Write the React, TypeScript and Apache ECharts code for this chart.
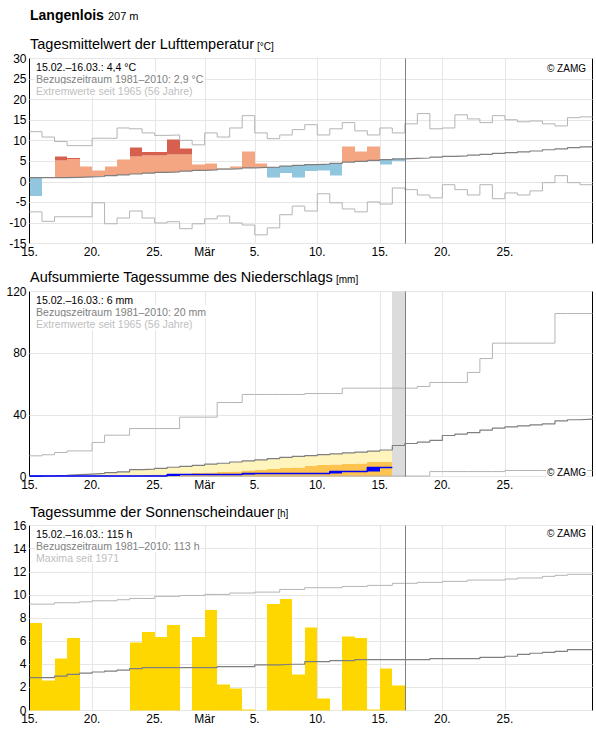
import React, { useEffect, useRef } from 'react';
import * as echarts from 'echarts';

// ---------- axis / category data ----------
const DAY_COUNT = 45; // 15.02. – 31.03.
const xLabelDays = [0, 5, 10, 14, 18, 23, 28, 33, 38];
const xLabelTexts = ['15.', '20.', '25.', 'Mär', '5.', '10.', '15.', '20.', '25.'];
const todayIndex = 30;
const precipMissingDay = 29;

// ---------- temperature (°C) ----------
const tempActual = [-3.5, 1.0, 6.2, 5.8, 3.7, 2.8, 3.7, 5.4, 8.4, 7.3, 7.3, 10.3, 8.1, 4.2, 4.5, 3.2, 3.7, 7.4, 4.5, 1.05, 2.1, 1.1, 2.6, 2.8, 1.6, 8.6, 7.4, 8.6, 4.2, 5.1];
const tempWarmLimit = [5.1, 5.1, 5.2, 5.6, 5.7, 5.8, 5.9, 6.0, 6.2, 6.4, 6.4, 6.7, 6.7, 7.0, 7.1, 7.3, 7.4, 7.6, 7.7, 7.8, 8.0, 8.2, 8.4, 8.5, 8.7, 9.0, 9.2, 9.4, 9.6, 9.8];
const tempNormal = [1.0, 1.0, 1.0, 1.1, 1.2, 1.3, 1.5, 1.7, 1.9, 2.1, 2.3, 2.4, 2.6, 2.8, 2.9, 3.1, 3.2, 3.4, 3.5, 3.6, 3.8, 4.0, 4.2, 4.3, 4.5, 4.8, 5.0, 5.2, 5.4, 5.6, 5.7, 5.8, 6.0, 6.2, 6.3, 6.5, 6.7, 6.9, 7.1, 7.3, 7.5, 7.8, 8.0, 8.3, 8.5];
const tempMax = [12.2, 10.9, 9.8, 8.8, 8.8, 10.6, 10.6, 13.1, 12.9, 11.9, 11.3, 11.4, 10.1, 9.0, 11.9, 10.9, 13.1, 16.1, 11.9, 10.5, 11.4, 12.7, 13.9, 11.4, 12.9, 14.4, 12.4, 11.4, 13.1, 11.9, 14.1, 16.6, 12.9, 13.1, 16.3, 15.3, 14.4, 16.1, 15.1, 14.6, 14.8, 14.1, 13.6, 15.6, 15.8];
const tempMin = [-7.3, -9.6, -8.5, -8.5, -8.5, -5.1, -10.2, -8.8, -7.1, -8.8, -10.0, -9.7, -11.4, -10.2, -9.0, -8.3, -10.0, -10.5, -12.9, -11.2, -8.0, -5.9, -7.1, -2.9, -5.1, -6.6, -7.3, -4.9, -5.4, -1.5, -1.9, -3.2, -3.9, -0.7, -1.9, -3.2, -0.7, -4.1, -2.7, -3.2, -2.2, -0.2, 1.5, -0.2, -0.7];

// ---------- precipitation, cumulative (mm) ----------
const precipActual = [0.4, 0.4, 0.4, 0.4, 0.4, 0.4, 0.4, 0.4, 0.4, 0.4, 0.4, 1.3, 1.3, 1.3, 1.3, 1.3, 1.3, 2.0, 2.0, 2.0, 2.0, 2.0, 2.0, 2.0, 3.2, 3.2, 3.2, 5.8, 5.8];
const precipLowBand = [0, 0, 0, 0, 0.1, 0.2, 0.3, 0.5, 0.8, 1.0, 1.3, 1.6, 1.9, 2.2, 2.6, 3.0, 3.4, 3.8, 4.2, 4.8, 5.4, 6.0, 6.9, 7.3, 7.8, 8.0, 8.4, 9.3, 9.3];
const precipNormal = [0.3, 0.5, 0.8, 1.2, 1.6, 2.0, 2.5, 3.0, 4.5, 4.8, 5.3, 6.0, 6.6, 7.2, 8.0, 8.6, 9.4, 10.1, 10.8, 11.6, 12.4, 13.0, 13.6, 14.2, 14.7, 15.3, 15.8, 16.4, 17.2, 20.1, 21.4, 22.3, 23.4, 26.6, 27.5, 28.5, 30.1, 31.4, 32.2, 32.9, 33.5, 34.2, 36.1, 36.8, 37.2];
const precipMax = [13.4, 14.1, 15.6, 16.6, 16.6, 22.1, 26.8, 26.8, 31.1, 31.1, 31.1, 31.1, 38.5, 38.5, 38.5, 48.0, 48.0, 53.2, 53.2, 53.2, 53.2, 53.2, 53.8, 53.8, 53.8, 57.3, 57.3, 57.3, 57.3, 57.3, 57.3, 58.4, 61.0, 61.0, 61.0, 67.5, 76.5, 86.5, 86.5, 86.5, 86.5, 86.5, 105.7, 105.7, 105.7];
const precipMin = [0.3, 0.3, 0.3, 0.3, 0.3, 0.3, 0.3, 0.3, 0.3, 0.3, 0.3, 0.3, 0.3, 0.3, 0.3, 0.3, 0.3, 0.3, 0.3, 0.3, 0.3, 0.3, 0.3, 0.3, 0.3, 0.3, 0.3, 0.3, 0.3, 0.3, 0.3, 0.3, 3.2, 3.2, 3.2, 3.2, 3.2, 3.2, 3.9, 3.9, 3.9, 3.9, 3.9, 3.9, 3.9];

// ---------- sunshine (h) ----------
const sunActual = [7.55, 2.6, 4.5, 6.25, 0, 0, 0, 0, 5.9, 6.77, 6.34, 7.38, 0, 6.34, 8.68, 2.26, 1.91, 0.09, 0, 9.2, 9.64, 3.13, 7.2, 1.04, 0, 6.42, 6.25, 0.09, 3.65, 2.17];
const sunNormal = [2.84, 2.84, 2.98, 3.13, 3.24, 3.33, 3.41, 3.5, 3.62, 3.7, 3.7, 3.7, 3.7, 3.7, 3.7, 3.79, 3.79, 3.79, 3.94, 3.94, 4.0, 4.0, 4.22, 4.22, 4.31, 4.31, 4.4, 4.4, 4.4, 4.4, 4.4, 4.4, 4.48, 4.48, 4.48, 4.48, 4.6, 4.6, 4.69, 4.86, 4.95, 5.03, 5.12, 5.27, 5.27];
const sunMax = [9.2, 9.2, 9.32, 9.32, 9.4, 9.49, 9.49, 9.58, 9.69, 9.69, 9.87, 9.87, 9.95, 9.95, 10.04, 10.04, 10.16, 10.16, 10.24, 10.24, 10.47, 10.47, 10.62, 10.62, 10.62, 10.73, 10.73, 10.82, 10.82, 11.0, 11.0, 11.08, 11.08, 11.17, 11.17, 11.28, 11.28, 11.28, 11.37, 11.46, 11.46, 11.6, 11.69, 11.78, 11.78];

// ---------- texts ----------
const stationName = 'Langenlois';
const stationHeight = '207 m';
const panelTitles = ['Tagesmittelwert der Lufttemperatur', 'Aufsummierte Tagessumme des Niederschlags', 'Tagessumme der Sonnenscheindauer'];
const panelUnits = ['[°C]', '[mm]', '[h]'];
const panelLegends = [
  ['15.02.–16.03.: 4,4 °C', 'Bezugszeitraum 1981–2010: 2,9 °C', 'Extremwerte seit 1965 (56 Jahre)'],
  ['15.02.–16.03.: 6 mm', 'Bezugszeitraum 1981–2010: 20 mm', 'Extremwerte seit 1965 (56 Jahre)'],
  ['15.02.–16.03.: 115 h', 'Bezugszeitraum 1981–2010: 113 h', 'Maxima seit 1971'],
];
const copyright = '© ZAMG';
const yRanges = [
  { min: -15, max: 30, interval: 5 },
  { min: 0, max: 120, interval: 40 },
  { min: 0, max: 16, interval: 2 },
];

// ---------- styling ----------
const FONT = '"Liberation Sans", Arial, Helvetica, sans-serif';
const GRID_LEFT = 29.5;
const GRID_WIDTH = 563;
const GRID_HEIGHT = 185;
const gridTops = [58.5, 291.5, 525.5];
const C_NORMAL = '#7f7f7f';
const C_EXTREME = '#b4b4b4';
const C_GRID = '#e6e6e6';

function measure(text: string, font: string): number {
  const ctx = document.createElement('canvas').getContext('2d');
  if (!ctx) return text.length * 7;
  ctx.font = font;
  return ctx.measureText(text).width;
}

function stepLine(values: number[], p: number, color: string, width: number, z: number) {
  const data = values.map((v, i) => [i, v]);
  data.push([values.length, values[values.length - 1]]);
  return {
    type: 'line', xAxisIndex: p, yAxisIndex: p, step: 'end', data, symbol: 'none', showSymbol: false,
    silent: true, z, lineStyle: { color, width }, emphasis: { disabled: true },
  };
}

function rectSeries(data: number[][], p: number, colors: string[], z: number) {
  return {
    type: 'custom', xAxisIndex: p, yAxisIndex: p, silent: true, z, clip: false, data,
    renderItem: (_params: any, api: any) => {
      const a = api.coord([api.value(0), api.value(3)]);
      const b = api.coord([api.value(1), api.value(2)]);
      const x0 = Math.round(a[0]);
      const x1 = Math.round(b[0]);
      const y0 = Math.round(a[1] * 2) / 2;
      const y1 = Math.round(b[1] * 2) / 2;
      return { type: 'rect', shape: { x: x0, y: y0, width: x1 - x0, height: y1 - y0 }, style: { fill: colors[api.value(4)] } };
    },
  };
}

function vLines(days: number[], p: number, color: string, z: number) {
  return {
    type: 'custom', xAxisIndex: p, yAxisIndex: p, silent: true, z, clip: false,
    data: days.map((d) => [d, 0]),
    renderItem: (params: any, api: any) => {
      const x = Math.round(api.coord([api.value(0), 0])[0]) + 0.5;
      const cs = params.coordSys;
      return { type: 'line', shape: { x1: x, y1: cs.y, x2: x, y2: cs.y + cs.height }, style: { stroke: color, lineWidth: 1 } };
    },
  };
}

function textEl(text: string, x: number, baseline: number, fontSize: number, color: string, opts: any = {}) {
  const font = `${opts.bold ? 'bold ' : ''}${fontSize}px ${FONT}`;
  return {
    type: 'text', x, y: baseline - 0.35 * fontSize, z: 100, silent: true,
    style: {
      text, font, fill: color,
      align: opts.align || 'left', textAlign: opts.align || 'left',
      verticalAlign: 'middle', textVerticalAlign: 'middle',
      backgroundColor: opts.bg, padding: opts.bg ? [1, 1, 1, 1] : 0,
    },
  };
}

function buildOption() {
  const grids = gridTops.map((top) => ({
    left: GRID_LEFT, top, width: GRID_WIDTH, height: GRID_HEIGHT, show: true,
    borderColor: '#000', borderWidth: 1, backgroundColor: 'transparent',
  }));
  const xAxes = gridTops.map((_t, i) => ({
    type: 'value', gridIndex: i, min: 0, max: DAY_COUNT, interval: 1,
    axisLine: { show: false }, axisTick: { show: false }, splitLine: { show: false },
    axisLabel: {
      fontSize: 12, color: '#000', fontFamily: FONT, margin: 2, showMinLabel: true, showMaxLabel: true,
      formatter: (v: number) => { const k = xLabelDays.indexOf(Math.round(v)); return k >= 0 ? xLabelTexts[k] : ''; },
    },
  }));
  const yAxes = yRanges.map((r, i) => ({
    type: 'value', gridIndex: i, min: r.min, max: r.max, interval: r.interval,
    axisLine: { show: false }, axisTick: { show: false },
    splitLine: { show: true, lineStyle: { color: C_GRID, width: 1 } },
    axisLabel: { fontSize: 12, color: '#000', fontFamily: FONT, margin: 3 },
  }));

  const series: any[] = [];
  const gridDays = xLabelDays.filter((d) => d > 0);
  for (let p = 0; p < 3; p++) {
    series.push(vLines(gridDays, p, C_GRID, 0));
  }

  // Panel 1: temperature anomalies
  const tempRects: number[][] = [];
  tempActual.forEach((v, d) => {
    const base = tempNormal[d];
    const warm = tempWarmLimit[d];
    if (v > base) {
      tempRects.push([d, d + 1, base, Math.min(v, warm), 0]);
      if (v > warm) tempRects.push([d, d + 1, warm, v, 1]);
    } else if (v < base) {
      tempRects.push([d, d + 1, v, base, 2]);
    }
  });
  series.push(rectSeries(tempRects, 0, ['#f4a582', '#d6604d', '#92c5de'], 2));
  series.push(stepLine(tempMax, 0, C_EXTREME, 1, 3));
  series.push(stepLine(tempMin, 0, C_EXTREME, 1, 3));
  series.push(stepLine(tempNormal, 0, C_NORMAL, 1.2, 4));

  // Panel 2: precipitation
  series.push(rectSeries([[precipMissingDay, precipMissingDay + 1, yRanges[1].min, yRanges[1].max, 0]], 1, ['#dcdcdc'], 1));
  const bandRects: number[][] = [];
  precipLowBand.forEach((low, d) => {
    if (low > 0) bandRects.push([d, d + 1, 0, low, 1]);
    bandRects.push([d, d + 1, low, precipNormal[d], 0]);
  });
  series.push(rectSeries(bandRects, 1, ['#fff5bc', '#fec44f'], 2));
  series.push(stepLine(precipMax, 1, C_EXTREME, 1, 3));
  series.push(stepLine(precipMin, 1, C_EXTREME, 1, 3));
  series.push(stepLine(precipNormal, 1, C_NORMAL, 1.2, 4));
  const rainRects: number[][] = [];
  precipActual.forEach((v, d) => {
    const prev = d > 0 ? precipActual[d - 1] : 0;
    if (v > prev) rainRects.push([d, d + 1, prev, v, 0]);
  });
  series.push(rectSeries(rainRects, 1, ['#0000ff'], 5));
  series.push(stepLine(precipActual, 1, '#0000ff', 1.5, 5));

  // Panel 3: sunshine
  const sunRects: number[][] = [];
  sunActual.forEach((v, d) => { if (v > 0) sunRects.push([d, d + 1, 0, v, 0]); });
  series.push(rectSeries(sunRects, 2, ['#ffd700'], 2));
  series.push(stepLine(sunMax, 2, C_EXTREME, 1, 3));
  series.push(stepLine(sunNormal, 2, C_NORMAL, 1.2, 4));

  for (let p = 0; p < 3; p++) {
    series.push(vLines([todayIndex], p, '#808080', 6));
  }

  // texts
  const graphic: any[] = [];
  const titleFont = `bold 14px ${FONT}`;
  graphic.push(textEl(stationName, 30, 19.5, 14, '#000', { bold: true }));
  graphic.push(textEl(stationHeight, 30 + measure(stationName, titleFont) + 4, 19.5, 11, '#000'));
  const titleBaselines = [49.5, 282.5, 516.8];
  const legendFs = 10.6;
  panelTitles.forEach((t, p) => {
    const w = measure(t, `14.5px ${FONT}`);
    graphic.push(textEl(t, 30, titleBaselines[p], 14.5, '#000'));
    graphic.push(textEl(panelUnits[p], 30 + w + 3, titleBaselines[p], 10, '#000'));
    const top = gridTops[p] + 0.5;
    const colors = ['#000', '#808080', '#c0c0c0'];
    panelLegends[p].forEach((line, k) => {
      graphic.push(textEl(line, 35, top + 11.3 + 12 * k, legendFs, colors[k], { bg: '#fff' }));
    });
  });
  graphic.push(textEl(copyright, 587, 71.5, 10, '#000', { align: 'right', bg: '#fff' }));
  graphic.push(textEl(copyright, 587, 475.7, 10, '#000', { align: 'right', bg: '#fff' }));
  graphic.push(textEl(copyright, 587, 537, 10, '#000', { align: 'right', bg: '#fff' }));

  return {
    animation: false,
    backgroundColor: '#fff',
    textStyle: { fontFamily: FONT },
    grid: grids,
    xAxis: xAxes,
    yAxis: yAxes,
    series,
    graphic,
  };
}

export default function App() {
  const ref = useRef<HTMLDivElement>(null);
  useEffect(() => {
    if (!ref.current) return;
    const chart = echarts.init(ref.current, null, { renderer: 'svg' });
    chart.setOption(buildOption() as any);
    return () => chart.dispose();
  }, []);
  return (
    <div
      ref={ref}
      style={{ position: 'absolute', left: 0, top: 0, width: 596, height: 729, background: '#fff' }}
    />
  );
}
